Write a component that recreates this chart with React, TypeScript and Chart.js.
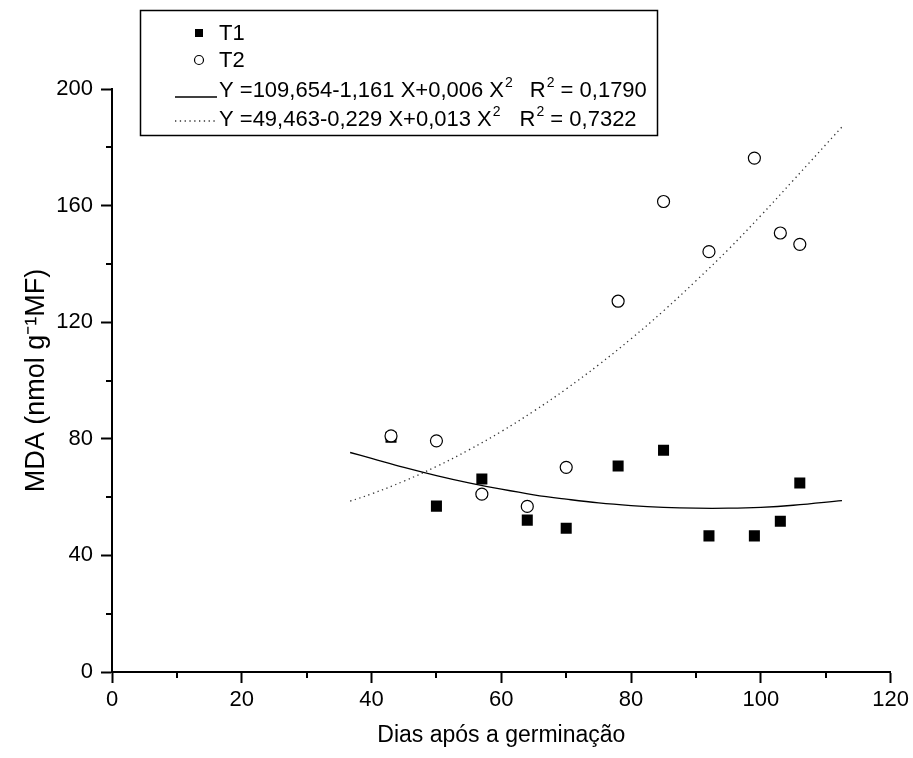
import React, { useEffect, useRef } from 'react';
import { Chart, registerables } from 'chart.js';

Chart.register(...registerables);

// ---- data ----
const days = [43, 50, 57, 64, 70, 78, 85, 92, 99, 103, 106];
const t1Values = [80.5, 56.9, 66.2, 52.1, 49.3, 70.7, 76.1, 46.7, 46.7, 51.7, 64.8];
const t2Values = [81.0, 79.3, 61.0, 56.8, 70.2, 127.2, 161.4, 144.2, 176.3, 150.6, 146.7];

const fitX = [36.7, 40, 45, 50, 55, 60, 65, 70, 75, 80, 85, 90, 95, 100, 105, 112.5];
const fit1Values = [75.3, 73.3, 70.2, 67.4, 64.9, 62.7, 60.8, 59.3, 58.0, 57.1, 56.5, 56.2, 56.2, 56.5, 57.2, 58.8];
const fit2Values = [58.6, 61.1, 65.5, 70.5, 76.2, 82.5, 89.5, 97.1, 105.4, 114.3, 123.9, 134.2, 145.0, 156.6, 168.7, 187.0];

const seriesLabels = ['T1', 'T2', 'Y =109,654-1,161 X+0,006 X', 'Y =49,463-0,229 X+0,013 X'];
const r2Values = ['0,1790', '0,7322'];

const xTitle = 'Dias após a germinação';
const yTitle = 'MDA (nmol g⁻¹MF)';

const FONT = "'Liberation Sans', Arial, sans-serif";

const minorTicksPlugin = {
  id: 'minorTicks',
  afterDraw(chart: any) {
    const { ctx, chartArea, scales } = chart;
    ctx.save();
    ctx.strokeStyle = '#000';
    ctx.lineWidth = 2;
    const xs = scales.x;
    for (let v = 10; v < 120; v += 20) {
      const px = Math.round(xs.getPixelForValue(v));
      ctx.beginPath();
      ctx.moveTo(px, chartArea.bottom);
      ctx.lineTo(px, chartArea.bottom + 6);
      ctx.stroke();
    }
    const ys = scales.y;
    for (let v = 20; v < 200; v += 40) {
      const py = Math.round(ys.getPixelForValue(v));
      ctx.beginPath();
      ctx.moveTo(chartArea.left, py);
      ctx.lineTo(chartArea.left - 6, py);
      ctx.stroke();
    }
    ctx.restore();
  },
};

const legendPlugin = {
  id: 'boxLegend',
  afterDraw(chart: any) {
    const { ctx } = chart;
    const ds = chart.data.datasets;
    ctx.save();
    // frame
    ctx.strokeStyle = '#000';
    ctx.lineWidth = 1.5;
    ctx.fillStyle = '#fff';
    ctx.fillRect(140, 10, 518, 126);
    ctx.strokeRect(140.5, 10.5, 517, 125);

    const markX = 199;
    const textX = 219;
    ctx.font = `22px ${FONT}`;
    ctx.textBaseline = 'middle';
    ctx.textAlign = 'left';

    // T1
    ctx.fillStyle = ds[0].backgroundColor;
    ctx.fillRect(markX - 4, 33 - 4, 8, 8);
    ctx.fillStyle = '#000';
    ctx.fillText(ds[0].label, textX, 34);

    // T2
    ctx.beginPath();
    ctx.arc(markX, 60, 4.5, 0, Math.PI * 2);
    ctx.fillStyle = ds[1].backgroundColor;
    ctx.fill();
    ctx.lineWidth = 1.2;
    ctx.strokeStyle = ds[1].borderColor;
    ctx.stroke();
    ctx.fillStyle = '#000';
    ctx.fillText(ds[1].label, textX, 61);

    const rows = [
      { d: ds[2], lineY: 97, textY: 91, r2: r2Values[0], gap: 17 },
      { d: ds[3], lineY: 121, textY: 120, r2: r2Values[1], gap: 19 },
    ];
    rows.forEach((row) => {
      ctx.beginPath();
      ctx.strokeStyle = row.d.borderColor;
      ctx.lineWidth = row.d.borderWidth;
      ctx.setLineDash(row.d.borderDash || []);
      ctx.moveTo(175, row.lineY);
      ctx.lineTo(217, row.lineY);
      ctx.stroke();
      ctx.setLineDash([]);

      ctx.fillStyle = '#000';
      ctx.font = `22px ${FONT}`;
      ctx.fillText(row.d.label, textX, row.textY);
      let x = textX + ctx.measureText(row.d.label).width + 1;
      ctx.font = `14px ${FONT}`;
      ctx.fillText('2', x, row.textY - 8);
      x += ctx.measureText('2').width + row.gap;
      ctx.font = `22px ${FONT}`;
      ctx.fillText('R', x, row.textY);
      x += ctx.measureText('R').width + 1;
      ctx.font = `14px ${FONT}`;
      ctx.fillText('2', x, row.textY - 8);
      x += ctx.measureText('2').width;
      ctx.font = `22px ${FONT}`;
      ctx.fillText(' = ' + row.r2, x, row.textY);
    });
    ctx.restore();
  },
};

export default function App() {
  const canvasRef = useRef<HTMLCanvasElement | null>(null);

  useEffect(() => {
    const canvas = canvasRef.current;
    if (!canvas) return;
    const tickFont = { family: FONT, size: 22 };
    const chart = new Chart(canvas, {
      type: 'scatter',
      data: {
        datasets: [
          {
            label: seriesLabels[0],
            data: days.map((d, i) => ({ x: d, y: t1Values[i] })),
            pointStyle: 'rect',
            pointRadius: 7.8,
            backgroundColor: '#000',
            borderColor: '#000',
            borderWidth: 0,
            order: 1,
          },
          {
            label: seriesLabels[1],
            data: days.map((d, i) => ({ x: d, y: t2Values[i] })),
            pointStyle: 'circle',
            pointRadius: 6,
            backgroundColor: '#fff',
            borderColor: '#000',
            borderWidth: 1.2,
            order: 0,
          },
          {
            label: seriesLabels[2],
            data: fitX.map((x, i) => ({ x, y: fit1Values[i] })),
            showLine: true,
            pointRadius: 0,
            borderColor: '#000',
            borderWidth: 1.3,
            tension: 0.4,
            order: 2,
          },
          {
            label: seriesLabels[3],
            data: fitX.map((x, i) => ({ x, y: fit2Values[i] })),
            showLine: true,
            pointRadius: 0,
            borderColor: '#333',
            borderWidth: 1.3,
            borderDash: [1.3, 3.5],
            tension: 0.4,
            order: 3,
          },
        ],
      } as any,
      options: {
        responsive: false,
        animation: false,
        devicePixelRatio: 1,
        layout: { padding: { top: 89, right: 20, left: 0, bottom: 0 } },
        plugins: {
          legend: { display: false },
          tooltip: { enabled: false },
        },
        scales: {
          x: {
            type: 'linear',
            min: 0,
            max: 120,
            afterFit: (s: any) => { s.height = 86; },
            ticks: {
              stepSize: 20,
              autoSkip: false,
              maxRotation: 0,
              color: '#000',
              font: tickFont,
              padding: 4,
            },
            grid: {
              drawOnChartArea: false,
              drawTicks: true,
              tickLength: 11,
              tickWidth: 2,
              tickColor: '#000',
            },
            border: { display: true, color: '#000', width: 2 },
            title: {
              display: true,
              text: xTitle,
              color: '#000',
              font: { family: FONT, size: 23 },
              padding: { top: 0, bottom: 9 },
            },
          },
          y: {
            type: 'linear',
            min: 0,
            max: 200,
            afterFit: (s: any) => { s.width = 112; },
            ticks: {
              stepSize: 40,
              autoSkip: false,
              color: '#000',
              font: tickFont,
              padding: 8,
            },
            grid: {
              drawOnChartArea: false,
              drawTicks: true,
              tickLength: 11,
              tickWidth: 2,
              tickColor: '#000',
            },
            border: { display: true, color: '#000', width: 2 },
            title: {
              display: true,
              text: yTitle,
              color: '#000',
              font: { family: FONT, size: 27 },
              padding: { top: 20, bottom: 0 },
            },
          },
        },
      } as any,
      plugins: [minorTicksPlugin, legendPlugin],
    });
    return () => chart.destroy();
  }, []);

  return (
    <div style={{ position: 'absolute', left: 0, top: 0, width: 913, height: 758, background: '#fff' }}>
      <canvas ref={canvasRef} width={913} height={758} style={{ width: 913, height: 758, display: 'block' }} />
    </div>
  );
}
